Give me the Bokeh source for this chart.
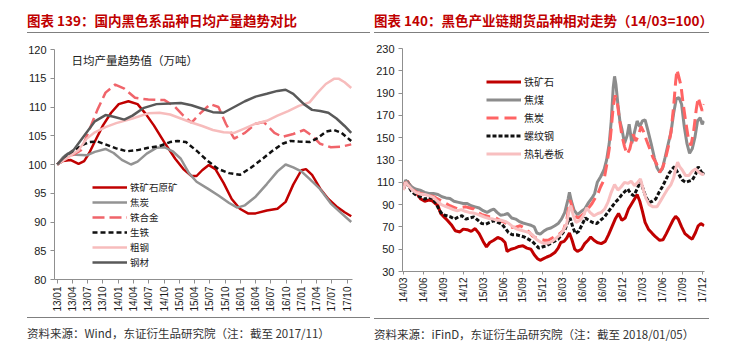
from bokeh.plotting import figure
from bokeh.models import Range1d, FixedTicker, Label, Div
from bokeh.layouts import row, column
from bokeh.embed import file_html
from bokeh.resources import INLINE
import math

# ---------------- Left chart data (month index, 0 = 2013/01) ----------------
left_tick_labels = ["13/01", "13/04", "13/07", "13/10", "14/01", "14/04", "14/07", "14/10",
                    "15/01", "15/04", "15/07", "15/10", "16/01", "16/04", "16/07", "16/10",
                    "17/01", "17/04", "17/07", "17/10"]
left_tick_pos = [3 * i for i in range(20)]

ore_x = [0, 1.1, 2.6, 4.2, 5.3, 6.3, 7.4, 9.0, 10.6, 12.1, 14.0, 15.8, 17.4, 19.0, 21.1, 23.2, 24.8,
         26.4, 27.4, 28.5, 29.8, 31.1, 32.7, 34.3, 35.9, 37.5, 39.0, 41.2, 43.3, 44.9, 46.4, 48.0,
         48.9, 50.1, 51.7, 53.3, 54.9, 56.5, 57.8]
ore_y = [100, 100.6, 100.8, 100.1, 100.6, 102, 104, 106.8, 109, 110.5, 111.0, 110.5, 108.8, 106.8,
         103.8, 101.0, 99.2, 98.0, 98.0, 99.0, 99.9, 99.2, 96.8, 94.0, 92.3, 91.5, 91.5, 92.0, 92.3,
         93.5, 96.5, 99.0, 99.2, 98.2, 95.8, 94.0, 92.7, 91.7, 91.0]

coke_x = [0, 1.1, 2.1, 3.7, 5.8, 7.4, 9.5, 11.1, 12.7, 14.5, 15.8, 17.6, 19.5, 21.1, 22.7, 24.3,
          25.9, 27.4, 29.6, 31.7, 33.8, 35.4, 36.9, 39.0, 41.2, 43.3, 44.9, 46.4, 48.0, 49.6, 51.7,
          53.8, 55.9, 57.8]
coke_y = [100, 101.2, 101.9, 101.7, 101.6, 102.2, 102.7, 102.0, 100.8, 100.0, 100.5, 101.9, 102.9,
          103.0, 102.3, 101.0, 98.5, 97.0, 95.8, 94.6, 93.3, 92.5, 92.9, 94.4, 96.6, 98.8, 100.0,
          99.5, 98.8, 97.5, 95.7, 93.2, 91.5, 90.0]

alloy_x = [0, 1.6, 3.2, 4.7, 6.3, 7.9, 9.5, 11.4, 13.2, 15.3, 17.9, 21.1, 23.2, 24.8, 26.4, 28.0,
           30.1, 31.7, 33.2, 34.8, 36.9, 39.0, 40.6, 42.7, 44.3, 46.4, 48.5, 50.1, 51.7, 53.8,
           55.9, 57.8]
alloy_y = [100, 101.3, 101.7, 102.5, 106, 109.5, 112.5, 113.9, 113.2, 111.6, 111.3, 111.2, 110.0,
           108.5, 107.3, 108.8, 110.5, 110.0, 107, 104.5, 105.5, 107.1, 107.4, 105.5, 104.8, 105.3,
           106.0, 105, 103.6, 103.0, 103.1, 103.5]

pig_x = [0, 1.6, 3.2, 4.7, 6.3, 7.9, 9.5, 11.6, 13.7, 15.8, 17.9, 20.1, 22.2, 23.7, 25.3, 27.4,
         29.6, 31.7, 33.8, 35.9, 38.0, 40.1, 42.2, 44.3, 45.9, 47.5, 49.6, 51.2, 52.8, 54.4, 55.9,
         57.8]
pig_y = [100, 101, 102.2, 103.3, 103.9, 104.0, 103.5, 102.8, 102.3, 102.5, 102.9, 103.2, 103.9,
         104.1, 103.9, 102.4, 100.6, 99.2, 98.5, 98.2, 99.4, 100.8, 102.3, 103.6, 104.1, 104.0,
         103.9, 104.6, 105.7, 106.0, 105.5, 104.1]

crude_x = [0, 2.1, 4.2, 5.8, 7.4, 9.5, 11.6, 14.8, 17.9, 20.1, 22.2, 24.3, 26.4, 28.5, 30.6, 32.7,
           34.8, 36.9, 39.0, 41.2, 43.3, 45.4, 47.5, 49.6, 51.2, 52.8, 54.4, 55.4, 56.5, 57.8]
crude_y = [100, 101.2, 102.5, 104.5, 105.6, 106.5, 107.2, 108, 108.9, 109.0, 108.7, 108.0, 107.3,
           106.7, 106.0, 105.6, 105.5, 106.3, 107.1, 107.6, 108.5, 109.3, 110.2, 110.8, 112.5,
           114.0, 114.9, 114.9, 114.3, 113.3]

steel_x = [0, 1.6, 3.2, 5.3, 7.4, 9.5, 11.1, 13.2, 14.8, 16.9, 19.5, 22.2, 24.3, 26.4, 28.5, 30.6,
           32.7, 34.8, 36.9, 39.0, 41.2, 43.3, 44.9, 46.4, 48.5, 50.1, 51.7, 53.3, 54.9, 56.5, 57.8]
steel_y = [100, 101.5, 102.5, 105, 107.5, 108.6, 108.3, 107.8, 108.5, 109.8, 110.5, 110.6, 110.7,
           110.3, 109.7, 109.1, 109.0, 110.0, 111.0, 111.8, 112.3, 112.8, 113.0, 112.3, 110.5,
           109.5, 109.3, 109.0, 108.0, 106.7, 105.5]

# ---------------- Right chart data (month index, 0 = 2014/03) ----------------
right_tick_labels = ["14/03", "14/06", "14/09", "14/12", "15/03", "15/06", "15/09", "15/12",
                     "16/03", "16/06", "16/09", "16/12", "17/03", "17/06", "17/09", "17/12"]
right_tick_pos = [3 * i for i in range(16)]

iron_x = [0, 0.3, 0.6, 1, 1.5, 2, 2.6, 3.2, 3.8, 4.3, 4.8, 5.2, 5.6, 6.1, 6.6, 7.2, 7.8, 8.5, 9.0,
          9.6, 10.2, 10.8, 11.4, 12.0, 12.5, 13.0, 13.6, 14.2, 14.8, 15.3, 15.6, 16.2, 16.8, 17.4,
          18, 18.6, 19.2, 19.7, 20.2, 20.6, 21.1, 21.6, 22.2, 22.8, 23.3, 23.7, 24.2, 24.6, 25.0,
          25.4, 25.8, 26.2, 26.8, 27.3, 27.8, 28.2, 28.7, 29.2, 29.8, 30.4, 30.9, 31.4, 31.9, 32.4,
          32.9, 33.4, 33.9, 34.4, 34.9, 35.2, 35.6, 36.0, 36.4, 36.9, 37.5, 38.0, 38.6, 39.1, 39.6,
          40.1, 40.6, 41.0, 41.4, 41.9, 42.4, 43.0, 43.5, 44.0, 44.4, 44.8, 45.3]
iron_y = [104, 110, 111, 107, 104, 100, 95, 93, 94, 93.5, 91, 89, 82, 79, 76, 72, 66.5, 65.5, 68,
          67.5, 66, 68.5, 64, 57, 52, 56, 58, 60.5, 59, 56, 48, 50, 51, 52.5, 53, 51, 50, 45, 41.5,
          40, 41.5, 43, 44.5, 47, 51, 56, 57, 60, 64.5, 58, 50, 48, 50, 55, 58, 61, 58, 56, 55, 57,
          63, 70, 77, 82, 76, 78, 86, 91, 96, 99, 93, 84, 74, 68, 64, 61, 58, 58.5, 64, 70, 76,
          79.5, 77, 70, 64, 61, 59, 65, 71, 73, 71]

cc_x = [0, 0.3, 0.6, 1.2, 1.8, 2.5, 3.2, 3.8, 4.5, 5.2, 5.8, 6.4, 7.0, 7.6, 8.3, 9.0, 9.6, 10.2,
        10.8, 11.4, 12.0, 12.6, 13.2, 13.6, 14.1, 14.6, 15.2, 15.7, 16.3, 16.9, 17.4, 18.0, 18.6,
        19.2, 19.7, 20.1, 20.6, 21.1, 21.6, 22.2, 22.8, 23.3, 23.8, 24.3, 24.8, 25.0, 25.3, 25.7,
        26.2, 26.8, 27.3, 27.9, 28.4, 28.8, 29.2, 29.7, 30.2, 30.6, 31.0, 31.3, 31.6, 31.8, 32.0,
        32.3, 32.6, 32.9, 33.3, 33.7, 34.0, 34.4, 34.8, 35.2, 35.6, 36.0, 36.4, 36.8, 37.3, 37.8,
        38.2, 38.6, 39.0, 39.4, 39.9, 40.3, 40.7, 41.1, 41.5, 41.9, 42.3, 42.7, 43.1, 43.5, 43.9,
        44.3, 44.7, 45.0, 45.3]
cc_y = [104, 112, 110, 106, 104, 103, 101, 100, 100, 99, 97, 96, 95.5, 93, 92, 91, 91, 89, 88, 87,
        84.5, 83, 85, 86, 83, 80.5, 81, 82, 78, 77, 75, 73.5, 72.5, 71.5, 70, 64.5, 63.5, 66, 68,
        69, 71, 73, 77, 83, 95, 101, 93, 85, 81, 84, 86, 92, 96, 100, 110, 115, 121, 130, 145, 165,
        195, 205, 198, 180, 165, 158, 145, 152, 162, 145, 155, 165, 160, 165, 166, 157, 145, 132,
        123, 119, 122, 132, 145, 155, 172, 185, 186, 180, 160, 145, 136, 140, 150, 165, 168, 162,
        165]

ck_x = [0, 0.3, 0.6, 1.2, 2.0, 2.6, 3.2, 4.0, 4.6, 5.2, 5.8, 6.4, 7.0, 7.6, 8.2, 8.8, 9.4, 10.0,
        10.6, 11.2, 11.8, 12.4, 13.0, 13.6, 14.2, 14.8, 15.3, 15.8, 16.4, 17.0, 17.6, 18.2, 18.8,
        19.4, 20.0, 20.6, 21.2, 21.8, 22.4, 23.0, 23.6, 24.1, 24.6, 24.9, 25.1, 25.4, 25.8, 26.3,
        26.8, 27.4, 27.9, 28.4, 28.9, 29.3, 29.7, 30.2, 30.6, 31.0, 31.3, 31.6, 31.9, 32.2, 32.5,
        32.9, 33.3, 33.7, 34.1, 34.6, 35.0, 35.4, 35.8, 36.2, 36.6, 37.1, 37.6, 38.1, 38.6, 39.1,
        39.5, 39.9, 40.3, 40.7, 41.0, 41.2, 41.5, 41.8, 42.1, 42.5, 42.9, 43.3, 43.7, 44.1, 44.4,
        44.7, 45.0, 45.3]
ck_y = [104, 110, 108, 104, 101, 100, 99, 98, 97, 95, 93, 91, 89, 87.5, 86, 87.5, 88, 87, 86, 83,
        81, 80, 79, 79, 77, 75, 74, 72, 69.5, 70, 71, 69, 66, 62, 60, 59, 58, 58, 60, 62, 64, 67,
        76, 88, 94, 88, 80, 78, 80, 83, 87, 91, 96, 100, 106, 112, 125, 140, 158, 178, 188, 182,
        168, 152, 142, 135, 140, 153, 147, 152, 160, 155, 148, 140, 132, 127, 119, 124, 132, 142,
        155, 178, 200, 211, 204, 197, 182, 165, 150, 143, 155, 175, 186, 180, 174, 180]

rb_x = [0, 0.3, 0.6, 1.2, 1.8, 2.5, 3.2, 3.8, 4.4, 4.9, 5.4, 5.9, 6.5, 7.1, 7.7, 8.3, 8.8, 9.4,
        10.0, 10.6, 11.2, 11.8, 12.4, 13.0, 13.6, 14.2, 14.8, 15.3, 15.8, 16.4, 17.0, 17.6, 18.2,
        18.8, 19.4, 19.9, 20.4, 20.9, 21.5, 22.1, 22.7, 23.3, 23.8, 24.3, 24.8, 25.1, 25.5, 25.9,
        26.4, 26.9, 27.4, 27.9, 28.5, 29.1, 29.7, 30.3, 30.9, 31.4, 31.9, 32.4, 32.9, 33.4, 33.8,
        34.2, 34.7, 35.2, 35.7, 36.1, 36.5, 37.0, 37.5, 38.0, 38.5, 39.0, 39.5, 40.0, 40.5, 40.8,
        41.2, 41.6, 42.0, 42.5, 43.0, 43.5, 44.0, 44.4, 44.8, 45.1, 45.3]
rb_y = [104, 109, 108, 102, 99, 97, 95, 96.5, 95.5, 91, 85, 81, 80, 79, 77, 79, 80, 77, 78, 79, 76,
        73, 72.5, 74, 75.5, 74, 72.5, 69, 65, 63, 63, 62, 61, 59, 57, 54, 51, 52, 53, 55, 57, 59,
        63, 67, 75, 78, 70, 64, 66, 72, 78, 76, 74, 73, 76, 79, 84, 88, 92, 95, 99, 102, 104, 100,
        98, 104, 111, 104, 97, 92, 93, 95, 101, 106, 112, 118, 122, 124, 120, 116, 112, 110, 111,
        112, 117, 124, 120, 117, 119]

hc_x = [0, 0.3, 0.6, 1.2, 1.8, 2.5, 3.2, 3.8, 4.5, 5.1, 5.7, 6.3, 6.9, 7.5, 8.1, 8.7, 9.3, 9.9,
        10.5, 11.1, 11.7, 12.3, 12.9, 13.5, 14.1, 14.7, 15.3, 15.9, 16.5, 17.1, 17.7, 18.3, 18.9,
        19.5, 20.0, 20.6, 21.2, 21.8, 22.4, 23.0, 23.6, 24.1, 24.6, 25.0, 25.2, 25.6, 26.0, 26.6,
        27.1, 27.6, 28.1, 28.7, 29.3, 29.8, 30.3, 30.8, 31.3, 31.8, 32.3, 32.8, 33.3, 33.8, 34.3,
        34.8, 35.3, 35.7, 36.1, 36.5, 37.0, 37.6, 38.2, 38.8, 39.3, 39.8, 40.3, 40.7, 41.0, 41.3,
        41.6, 42.0, 42.5, 43.0, 43.5, 44.0, 44.5, 45.0, 45.3]
hc_y = [103, 110, 108, 104, 101, 99.5, 99, 98, 96.5, 93, 90, 88.5, 87, 85.5, 84.5, 85.5, 84, 83,
        82.5, 81.5, 80, 78.5, 77.5, 77, 76, 76, 75, 73, 70, 68, 67, 66, 65, 62.5, 59, 56.5, 55,
        55.5, 57, 60, 63, 67, 73, 87, 89, 80, 74, 76, 80, 87, 83, 80, 82, 83, 86, 92, 101, 108,
        103, 106, 110, 109, 111, 107, 110, 113, 104, 96, 90, 88, 88, 94, 99, 104, 108, 114, 122,
        128, 124, 121, 116, 116, 120, 122, 119, 117, 117.5]

CJK = "Noto Sans CJK SC"
NUM = "Liberation Sans"


def style_axes(p, yticks, xticks, xlabels):
    p.outline_line_color = None
    p.grid.visible = False
    p.background_fill_color = None
    p.border_fill_color = None
    for ax in (p.xaxis[0], p.yaxis[0]):
        ax.axis_line_color = "#8f8f8f"
        ax.axis_line_width = 1
        ax.major_tick_line_color = "#8f8f8f"
        ax.minor_tick_line_color = None
        ax.major_tick_in = 0
        ax.major_tick_out = 4
        ax.major_label_text_font = NUM
        ax.major_label_text_color = "#1a1a1a"
    p.yaxis[0].ticker = FixedTicker(ticks=yticks)
    p.yaxis[0].major_label_text_font_size = "11px"
    p.yaxis[0].major_label_standoff = 4
    p.xaxis[0].ticker = FixedTicker(ticks=xticks)
    p.xaxis[0].major_label_overrides = {t: l for t, l in zip(xticks, xlabels)}
    p.xaxis[0].major_label_orientation = math.pi / 2
    p.xaxis[0].major_label_text_font_size = "10px"
    p.xaxis[0].major_label_standoff = 3


# ---------------- Left figure ----------------
p1 = figure(width=371, height=281, x_range=Range1d(-0.53, 58.05), y_range=Range1d(80, 120),
            output_backend="svg", toolbar_location=None,
            min_border_left=54, min_border_right=19, min_border_top=13, min_border_bottom=38)
style_axes(p1, [80, 85, 90, 95, 100, 105, 110, 115, 120], left_tick_pos, left_tick_labels)

p1.line(ore_x, ore_y, line_color="#C00000", line_width=2.5, legend_label="铁矿石原矿")
p1.line(coke_x, coke_y, line_color="#939393", line_width=2.5, legend_label="焦炭")
p1.line(alloy_x, alloy_y, line_color="#F0646A", line_width=2.5, line_dash="12 5", legend_label="铁合金")
p1.line(pig_x, pig_y, line_color="#111111", line_width=2.5, line_dash="5 3", legend_label="生铁")
p1.line(crude_x, crude_y, line_color="#F7BCBC", line_width=2.5, legend_label="粗钢")
p1.line(steel_x, steel_y, line_color="#595959", line_width=2.5, legend_label="钢材")

p1.add_layout(Label(x=2.8, y=118.1, text="日均产量趋势值（万吨）", text_font=CJK,
                    text_font_size="11.5px", text_color="#222222", text_baseline="middle"))

lg1 = p1.legend[0]
lg1.location = (38, 10)
lg1.background_fill_alpha = 0
lg1.border_line_color = None
lg1.padding = 0
lg1.margin = 0
lg1.spacing = 1
lg1.glyph_width = 35
lg1.glyph_height = 14
lg1.label_height = 14
lg1.label_standoff = 3
lg1.label_text_font = CJK
lg1.label_text_font_size = "9.5px"
lg1.label_text_color = "#222222"

# ---------------- Right figure ----------------
p2 = figure(width=372, height=281, x_range=Range1d(-0.15, 45.35), y_range=Range1d(30, 230),
            output_backend="svg", toolbar_location=None,
            min_border_left=31, min_border_right=39, min_border_top=12, min_border_bottom=46)
style_axes(p2, list(range(30, 231, 20)), right_tick_pos, right_tick_labels)
p2.xaxis[0].major_tick_out = 3

p2.line(iron_x, iron_y, line_color="#C00000", line_width=3, legend_label="铁矿石")
p2.line(cc_x, cc_y, line_color="#8C8C8C", line_width=3, legend_label="焦煤")
p2.line(ck_x, ck_y, line_color="#FF6464", line_width=3, line_dash="12 6", legend_label="焦炭")
p2.line(rb_x, rb_y, line_color="#111111", line_width=3, line_dash="4 2", legend_label="螺纹钢")
p2.line(hc_x, hc_y, line_color="#F8BFC0", line_width=3, legend_label="热轧卷板")

lg2 = p2.legend[0]
lg2.location = (84, 110)
lg2.background_fill_alpha = 0
lg2.border_line_color = None
lg2.padding = 0
lg2.margin = 0
lg2.spacing = 3
lg2.glyph_width = 35
lg2.glyph_height = 15
lg2.label_height = 15
lg2.label_standoff = 3
lg2.label_text_font = CJK
lg2.label_text_font_size = "10px"
lg2.label_text_color = "#222222"


# ---------------- Titles and sources ----------------
def title_div(text, w, left, line_w):
    html = (f'<div style="position:relative;width:{w}px;height:36px;">'
            f'<div style="position:absolute;left:{left}px;top:11px;line-height:18px;'
            f'font-family:\'{CJK}\';font-size:13.5px;font-weight:bold;color:#C00000;'
            f'white-space:nowrap;">{text}</div>'
            f'<div style="position:absolute;left:{left}px;top:32px;width:{line_w}px;height:0;'
            f'border-top:1.5px solid #7f7f7f;"></div></div>')
    return Div(text=html, width=w, height=36, margin=0)


def source_div(text, w, left, line_w, top_line):
    html = (f'<div style="position:relative;width:{w}px;height:36px;">'
            f'<div style="position:absolute;left:{left}px;top:{top_line}px;width:{line_w}px;height:0;'
            f'border-top:1.5px solid #7f7f7f;"></div>'
            f'<div style="position:absolute;left:{left}px;top:{top_line + 8}px;line-height:16px;'
            f'font-family:\'{CJK}\';font-size:11.5px;color:#333333;white-space:nowrap;">{text}</div>'
            f'</div>')
    return Div(text=html, width=w, height=36, margin=0)


t1 = title_div("图表 139：国内黑色系品种日均产量趋势对比", 371, 27, 343)
t2 = title_div("图表 140：黑色产业链期货品种相对走势（14/03=100）", 372, 3, 335)
s1 = source_div("资料来源：Wind，东证衍生品研究院（注：截至 2017/11）", 371, 27, 343, 0)
s2 = source_div("资料来源：iFinD，东证衍生品研究院（注：截至 2018/01/05）", 372, 3, 335, 1)

layout = row(column(t1, p1, s1, spacing=0), column(t2, p2, s2, spacing=0), spacing=0)

open("out.html", "w").write(file_html(layout, INLINE))
